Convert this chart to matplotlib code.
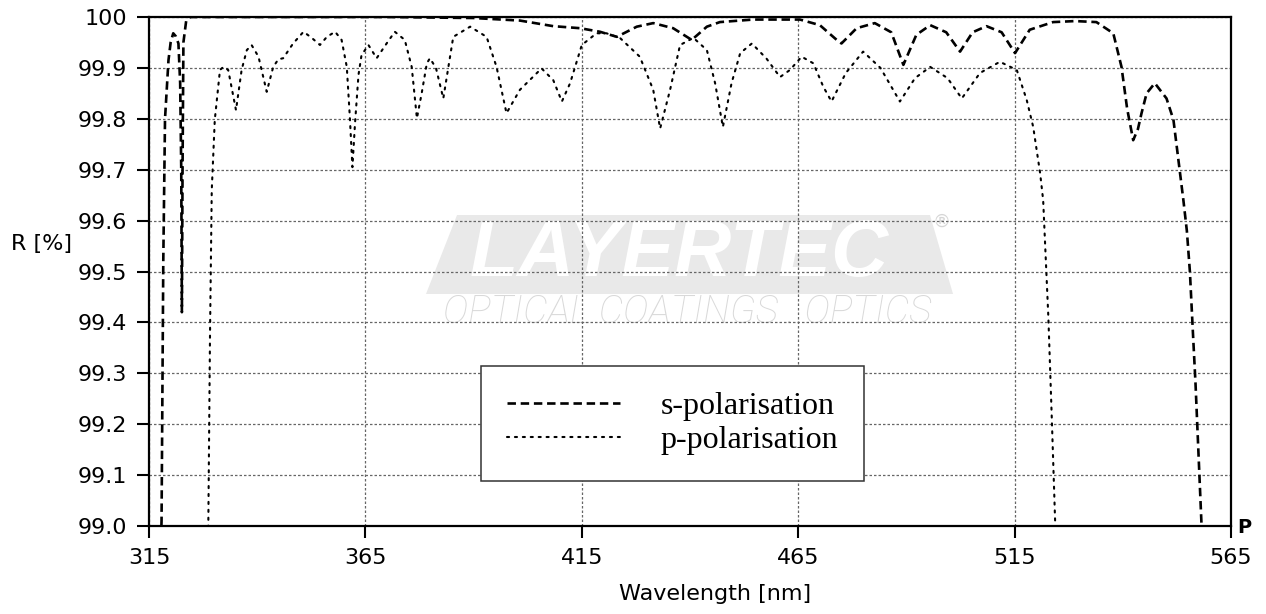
import numpy as np
import matplotlib
matplotlib.use("Agg")
import matplotlib.pyplot as plt
from matplotlib.patches import Polygon

# DATA
s_wl = [317.7, 317.9, 318.3, 318.7, 319.5, 320.0, 320.6, 321.2, 321.8, 322.2,
        322.45, 322.6, 322.75, 322.95, 323.6, 324.5, 340.0, 370.0, 390.0, 400.7,
        408.4, 414.6, 419.2, 423.1, 427.7, 431.5, 436.1, 440.4, 443.9, 446.9,
        454.6, 465.4, 470.0, 473.9, 475.0, 478.5, 482.7, 486.5, 489.3, 492.3,
        495.5, 499.2, 502.4, 505.3, 508.5, 512.0, 515.1, 518.5, 523.9, 529.0,
        533.9, 537.8, 539.7, 541.0, 542.4, 543.5, 544.3, 545.5, 547.4, 550.1,
        551.7, 554.0, 554.8, 555.5, 556.2, 556.8, 557.5, 558.2, 558.5]
s_r = [98.95, 99.01, 99.52, 99.80, 99.915, 99.950, 99.968, 99.962, 99.948, 99.87,
       99.70, 99.42, 99.70, 99.95, 99.993, 100.0, 100.0, 100.0, 99.998, 99.993,
       99.982, 99.978, 99.971, 99.961, 99.981, 99.988, 99.978, 99.955, 99.981, 99.99,
       99.995, 99.995, 99.984, 99.955, 99.948, 99.978, 99.988, 99.97, 99.906, 99.965,
       99.984, 99.97, 99.932, 99.97, 99.982, 99.97, 99.929, 99.975, 99.99, 99.992,
       99.99, 99.968, 99.902, 99.82, 99.758, 99.78, 99.81, 99.85, 99.870, 99.84,
       99.798, 99.64, 99.58, 99.50, 99.38, 99.28, 99.14, 99.0, 98.95]

p_wl = [328.5, 328.7, 329.1, 329.5, 330.2, 331.4, 332.2, 333.3, 335.1, 336.4,
        337.6, 338.7, 340.3, 342.2, 343.7, 344.9, 346.0, 348.3, 350.7, 352.6,
        354.5, 356.1, 358.0, 359.5, 360.7, 361.4, 362.0, 362.6, 363.4, 364.1,
        365.7, 367.6, 369.9, 371.8, 374.1, 375.7, 376.9, 378.0, 379.2, 379.9,
        381.3, 383.0, 385.3, 389.2, 393.0, 395.3, 397.6, 400.7, 405.7, 408.4,
        410.4, 412.3, 415.0, 418.4, 420.7, 423.8, 428.4, 431.5, 433.1, 435.4,
        437.7, 440.8, 443.9, 445.8, 447.6, 449.6, 451.6, 454.3, 457.7, 460.8,
        463.1, 465.8, 468.5, 470.8, 472.7, 476.0, 480.0, 484.0, 488.5, 492.0,
        495.5, 499.5, 502.8, 507.0, 511.6, 515.5, 517.8, 519.3, 520.9, 521.6,
        522.8, 523.6, 524.4, 524.6]
p_r = [98.95, 99.0, 99.38, 99.66, 99.798, 99.896, 99.902, 99.896, 99.817, 99.896,
       99.935, 99.945, 99.922, 99.853, 99.902, 99.917, 99.919, 99.948, 99.971, 99.959,
       99.945, 99.961, 99.971, 99.955, 99.902, 99.804, 99.705, 99.791, 99.886, 99.925,
       99.945, 99.919, 99.948, 99.971, 99.955, 99.902, 99.801, 99.85, 99.909, 99.919,
       99.90, 99.840, 99.961, 99.981, 99.961, 99.902, 99.811, 99.857, 99.899, 99.876,
       99.834, 99.870, 99.945, 99.968, 99.968, 99.959, 99.922, 99.857, 99.781, 99.857,
       99.945, 99.959, 99.935, 99.870, 99.784, 99.870, 99.929, 99.948, 99.918, 99.882,
       99.896, 99.922, 99.909, 99.863, 99.834, 99.89, 99.932, 99.90, 99.834, 99.88,
       99.902, 99.88, 99.84, 99.89, 99.912, 99.896, 99.837, 99.784, 99.693, 99.64,
       99.41, 99.21, 99.0, 98.95]

x_ticks = [315, 365, 415, 465, 515, 565]
y_ticks = [99.0, 99.1, 99.2, 99.3, 99.4, 99.5, 99.6, 99.7, 99.8, 99.9, 100.0]
y_tick_labels = ["99.0", "99.1", "99.2", "99.3", "99.4", "99.5",
                 "99.6", "99.7", "99.8", "99.9", "100"]

# FIGURE
fig = plt.figure(figsize=(12.66, 6.14), dpi=100)
ax = fig.add_axes([149/1266, 88/614, 1082/1266, 509/614])

ax.set_xlim(315, 565)
ax.set_ylim(99.0, 100.0)
ax.set_xticks(x_ticks)
ax.set_yticks(y_ticks)
ax.set_yticklabels(y_tick_labels)

for sp in ax.spines.values():
    sp.set_linewidth(1.6)
    sp.set_color("black")

ax.tick_params(direction="out", length=8.6, width=1.5, labelsize=16, pad=7)
ax.grid(True, color="0.4", linestyle=(0, (2, 1.6)), linewidth=0.9)

# watermark
wm = Polygon([(0.2847, 0.611), (0.7218, 0.611), (0.7431, 0.4558), (0.256, 0.4558)],
             closed=True, transform=ax.transAxes, facecolor="#e9e9e9",
             edgecolor="none", zorder=1)
ax.add_patch(wm)
ax.text(0.49, 0.531, "LAYERTEC", transform=ax.transAxes, ha="center", va="center",
        fontsize=57, fontweight="bold", style="italic", color="white",
        family=["Liberation Sans", "DejaVu Sans"], zorder=1.1)
ax.text(0.732, 0.598, "\u00ae", transform=ax.transAxes, ha="center", va="center",
        fontsize=13, color="#d6d6d6", zorder=1.1)
ax.text(0.497, 0.42, "OPTICAL COATINGS . OPTICS", transform=ax.transAxes,
        ha="center", va="center", fontsize=28, style="italic", fontweight="light",
        family=["Roboto", "DejaVu Sans"], color="#d9d9d9", zorder=1.1)

# CURVES
ax.plot(s_wl, s_r, color="black", linewidth=1.9, linestyle=(0, (3.2, 1.8)),
        label="s-polarisation", zorder=3)
ax.plot(p_wl, p_r, color="black", linewidth=1.5, linestyle=(0, (1, 2.8)),
        dash_capstyle="round", label="p-polarisation", zorder=3)

leg = ax.legend(loc="upper left", bbox_to_anchor=((481 - 149) / 1082, (526 - 366) / 509),
                prop={"family": "Liberation Serif", "size": 23},
                handlelength=3.55, handletextpad=1.28, borderpad=0.8,
                labelspacing=0.15, frameon=True, fancybox=False, borderaxespad=0)
leg.get_frame().set_edgecolor("0.2")
leg.get_frame().set_linewidth(1.1)
leg.get_frame().set_facecolor("white")
leg.get_frame().set_alpha(1)

# labels
ax.text(-0.128, 0.554, "R [%]", transform=ax.transAxes, ha="left", va="center",
        fontsize=16)
ax.text(0.523, -0.134, "Wavelength [nm]", transform=ax.transAxes, ha="center",
        va="center", fontsize=16)
ax.text(1.006, -0.002, "P", transform=ax.transAxes, ha="left", va="center",
        fontsize=14, fontweight="bold")

fig.savefig("out.png", dpi=100)
